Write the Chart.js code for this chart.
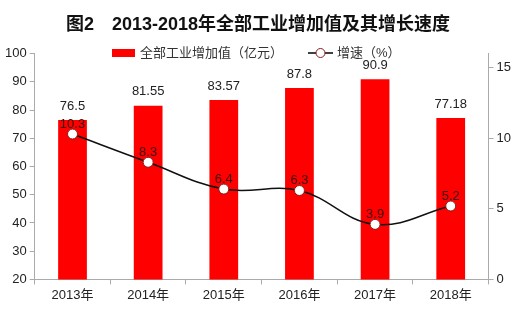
<!DOCTYPE html>
<html>
<head>
<meta charset="utf-8">
<script src="https://cdn.jsdelivr.net/npm/chart.js@4/dist/chart.umd.min.js"></script>
<style>
  html, body { margin: 0; padding: 0; background: #fff; }
  #wrap { width: 524px; height: 323px; }
</style>
</head>
<body>
<div id="wrap"><canvas id="myChart"></canvas></div>
<script>
const years = ["2013年", "2014年", "2015年", "2016年", "2017年", "2018年"];
const valueAdded = [76.5, 81.55, 83.57, 87.8, 90.9, 77.18];
const growth = [10.3, 8.3, 6.4, 6.3, 3.9, 5.2];
const barLabels = ["76.5", "81.55", "83.57", "87.8", "90.9", "77.18"];
const growthLabels = ["10.3", "8.3", "6.4", "6.3", "3.9", "5.2"];
const growthTicks = [0, 5, 10, 15];

const FONT = '"Liberation Sans", "Noto Sans CJK SC", sans-serif';

// value labels + hand drawn legend (line dataset is 0, bars are 1)
const extras = {
  id: "extras",
  afterDatasetsDraw(chart) {
    const ctx = chart.ctx;
    ctx.save();
    ctx.font = "13px " + FONT;
    ctx.textAlign = "center";
    ctx.textBaseline = "middle";
    ctx.fillStyle = "#222";
    chart.getDatasetMeta(1).data.forEach((bar, i) => {
      ctx.fillText(barLabels[i], bar.x, bar.y - 14);
    });
    ctx.fillStyle = "#3a1010";
    chart.getDatasetMeta(0).data.forEach((pt, i) => {
      ctx.fillText(growthLabels[i], pt.x, pt.y - 10);
    });

    const ly = 53;
    ctx.fillStyle = "#ff0000";
    ctx.fillRect(112, ly - 4, 23, 8);
    ctx.fillStyle = "#333";
    ctx.textAlign = "left";
    ctx.fillText("全部工业增加值（亿元）", 140, ly);
    ctx.strokeStyle = "#000";
    ctx.lineWidth = 1.5;
    ctx.beginPath();
    ctx.moveTo(308, ly);
    ctx.lineTo(333, ly);
    ctx.stroke();
    ctx.beginPath();
    ctx.arc(320.5, ly, 4.5, 0, Math.PI * 2);
    ctx.fillStyle = "#fff";
    ctx.fill();
    ctx.strokeStyle = "#8b1a1a";
    ctx.lineWidth = 1;
    ctx.stroke();
    ctx.fillStyle = "#333";
    ctx.fillText("增速（%）", 337, ly);
    ctx.restore();
  }
};

const data = {
  labels: years,
  datasets: [
    {
      type: "line",
      label: "增速（%）",
      data: growth,
      yAxisID: "y1",
      borderColor: "#111",
      borderWidth: 1.5,
      tension: 0.4,
      pointRadius: 5,
      pointBackgroundColor: "#fff",
      pointBorderColor: "#8b1a1a",
      pointBorderWidth: 1,
      order: 0,
    },
    {
      type: "bar",
      label: "全部工业增加值（亿元）",
      data: valueAdded,
      yAxisID: "y",
      backgroundColor: "#ff0000",
      barPercentage: 0.76,
      categoryPercentage: 0.5,
      order: 1,
    },
  ],
};

const config = {
  type: "bar",
  data,
  options: {
    responsive: true,
    maintainAspectRatio: false,
    animation: false,
    layout: { padding: { left: 2, right: 10, top: 0, bottom: 17 } },
    scales: {
      x: {
        grid: { display: true, drawOnChartArea: false, offset: true, tickLength: 5, color: "#aaa" },
        border: { color: "#aaa" },
        ticks: { color: "#222", font: { family: FONT, size: 13 } },
      },
      y: {
        position: "left",
        min: 20,
        max: 100,
        grid: { drawOnChartArea: false, tickLength: 5, color: "#aaa" },
        border: { color: "#aaa" },
        ticks: { stepSize: 10, color: "#222", font: { family: FONT, size: 13 } },
      },
      y1: {
        position: "right",
        min: 0,
        max: 16,
        grid: { drawOnChartArea: false, tickLength: 5, color: "#aaa" },
        border: { color: "#aaa" },
        afterBuildTicks: (axis) => {
          axis.ticks = growthTicks.map((v) => ({ value: v }));
        },
        ticks: {
          autoSkip: false,
          color: "#222",
          font: { family: FONT, size: 13 },
        },
      },
    },
    plugins: {
      legend: { display: false },
      tooltip: { enabled: false },
      title: {
        display: true,
        text: "图2　2013-2018年全部工业增加值及其增长速度",
        color: "#111",
        font: { family: FONT, size: 18, weight: "bold" },
        padding: { top: 14, bottom: 18 },
      },
    },
  },
  plugins: [extras],
};

const myChart = new Chart(document.getElementById("myChart"), config);
</script>
</body>
</html>
